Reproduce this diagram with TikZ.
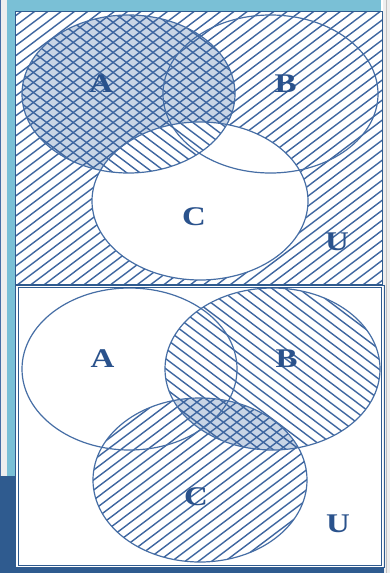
\documentclass[tikz,border=0pt]{standalone}
\usepackage{fontspec}
\setmainfont{Liberation Serif}
\begin{document}
\begin{tikzpicture}[x=1pt,y=-1pt]
\definecolor{bandblue}{RGB}{122,192,214}
\definecolor{sidegray}{RGB}{238,238,238}
\definecolor{navy}{RGB}{47,91,143}
\definecolor{hatchblue}{RGB}{62,102,160}
\definecolor{shadeblue}{RGB}{200,213,230}
\definecolor{lineblue}{RGB}{70,110,165}
\definecolor{textblue}{RGB}{42,82,140}
\tikzset{
  hatchline/.style={hatchblue, line width=1.4pt},
  setline/.style={lineblue, line width=1.2pt},
  framebox/.style={navy, line width=1.2pt},
  lbl/.style={text=textblue, inner sep=0pt, font=\fontsize{27}{27}\selectfont\bfseries}
}
\newcommand{\wideletter}[1]{\scalebox{1.22}[1]{#1}}
\useasboundingbox (0,0) rectangle (390,573);
\fill[white] (0,0) rectangle (390,573);
% window decoration
\fill[sidegray] (0,0) rectangle (7,476);
\draw[lineblue, line width=1pt] (0.5,0) -- (0.5,476);
\fill[bandblue] (7,0) rectangle (381,11);
\fill[bandblue] (7,0) rectangle (15,476);
\fill[sidegray] (383,0) rectangle (390,573);
\draw[gray!50, line width=0.8pt] (386.5,0) -- (386.5,573);
\fill[navy] (0,476) rectangle (15,573);
\fill[navy] (0,568) rectangle (384,573);

% ================= TOP PANEL =================
\begin{scope}
  \clip (16,12) rectangle (382,285);
  \fill[shadeblue] (128.5,94) ellipse [x radius=106.5, y radius=79];
  \begin{scope}[rotate around={37:(199,148)}]
    \foreach \k in {-36,...,36}
      \draw[hatchline] ({-250},{148+(\k)*8}) -- ({650},{148+(\k)*8});
  \end{scope}
  \fill[white] (200,201) ellipse [x radius=108, y radius=79];
  \begin{scope}
    \clip (128.5,94) ellipse [x radius=106.5, y radius=79];
    \begin{scope}[rotate around={-37:(128.5,94)}]
      \foreach \k in {-20,...,20}
        \draw[hatchline] ({-150},{94+(\k)*8}) -- ({400},{94+(\k)*8});
    \end{scope}
  \end{scope}
\end{scope}
\draw[setline] (128.5,94) ellipse [x radius=106.5, y radius=79];
\draw[setline] (270.5,94) ellipse [x radius=107.5, y radius=79];
\draw[setline] (200,201) ellipse [x radius=108, y radius=79];
\draw[framebox] (15.5,11.5) rectangle (382.5,285);
\node[lbl] (tA) at (101,84) {\wideletter{A}};
\node[lbl] (tB) at (285.5,84) {\wideletter{B}};
\node[lbl] (tC) at (194,217) {\wideletter{C}};
\node[lbl] (tU) at (337,242) {\wideletter{U}};

% ================= BOTTOM PANEL =================
\begin{scope}
  \clip (272.5,369) ellipse [x radius=107.5, y radius=81];
  \fill[shadeblue] (200,480) ellipse [x radius=107, y radius=82];
\end{scope}
\begin{scope}
  \clip (272.5,369) ellipse [x radius=107.5, y radius=81];
  \begin{scope}[rotate around={-37:(272.5,369)}]
    \foreach \k in {-20,...,20}
      \draw[hatchline] ({-50},{369+(\k)*8}) -- ({600},{369+(\k)*8});
  \end{scope}
\end{scope}
\begin{scope}
  \clip (200,480) ellipse [x radius=107, y radius=82];
  \begin{scope}[rotate around={37:(200,480)}]
    \foreach \k in {-20,...,20}
      \draw[hatchline] ({-150},{480+(\k)*8}) -- ({550},{480+(\k)*8});
  \end{scope}
\end{scope}
\draw[setline] (129.5,369) ellipse [x radius=107.5, y radius=81];
\draw[setline] (272.5,369) ellipse [x radius=107.5, y radius=81];
\draw[setline] (200,480) ellipse [x radius=107, y radius=82];
\draw[navy, line width=1pt] (15.5,285) rectangle (384,567.5);
\draw[navy, line width=0.9pt] (18.5,287.5) rectangle (381.5,565);
\node[lbl] (bA) at (102.5,359) {\wideletter{A}};
\node[lbl] (bB) at (286.5,358.5) {\wideletter{B}};
\node[lbl] (bC) at (196,497) {\wideletter{C}};
\node[lbl] (bU) at (338,524) {\wideletter{U}};
\end{tikzpicture}
\end{document}
